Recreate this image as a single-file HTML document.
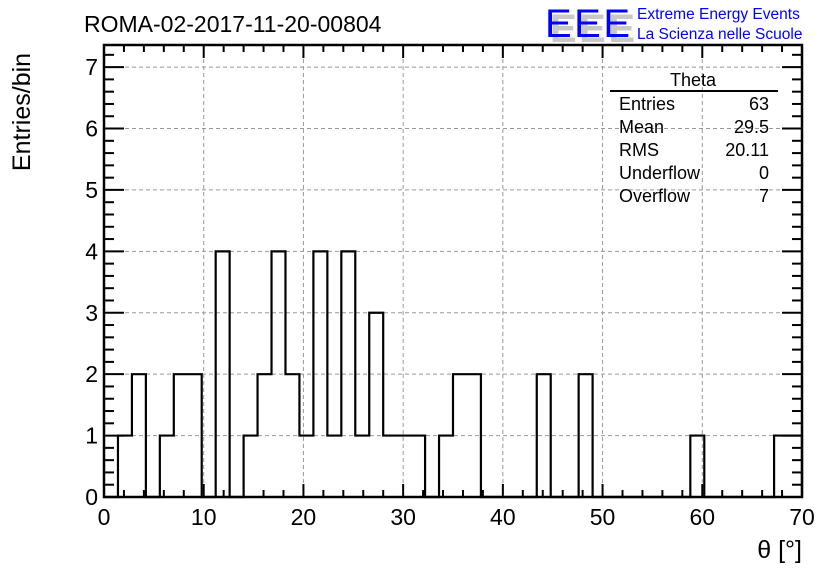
<!DOCTYPE html>
<html><head><meta charset="utf-8"><style>
body{margin:0;background:#fff}
svg{display:block;font-family:"Liberation Sans",sans-serif}
</style></head><body>
<svg id="c" width="836" height="572" viewBox="0 0 836 572">
<rect width="836" height="572" fill="#fff"/>
<g id="grid"></g>
<g id="hist"></g>
<g id="axes"></g>
<text x="84" y="32" font-size="23">ROMA-02-2017-11-20-00804</text>
<text transform="translate(30,112) rotate(-90)" text-anchor="middle" font-size="25">Entries/bin</text>
<text x="802" y="558" text-anchor="end" font-size="25">θ [°]</text>
<g>
<text x="550" y="42" font-size="40" fill="#c8c8c8" font-weight="bold" textLength="85">EEE</text>
<text x="545" y="37" font-size="40" fill="#0000ff" textLength="85">EEE</text>
<text x="637" y="19" font-size="15.5" fill="#0000ff">Extreme Energy Events</text>
<text x="637" y="39" font-size="15.5" fill="#0000ff">La Scienza nelle Scuole</text>
</g>
<g font-size="18">
<text x="693" y="86" text-anchor="middle">Theta</text>
<line x1="610" y1="91" x2="778" y2="91" stroke="#000" stroke-width="2"/>
<text x="619" y="110">Entries</text><text x="769" y="110" text-anchor="end">63</text>
<text x="619" y="133">Mean</text><text x="769" y="133" text-anchor="end">29.5</text>
<text x="619" y="156">RMS</text><text x="769" y="156" text-anchor="end">20.11</text>
<text x="619" y="179">Underflow</text><text x="769" y="179" text-anchor="end">0</text>
<text x="619" y="202">Overflow</text><text x="769" y="202" text-anchor="end">7</text>
</g>
</svg>
<script>
const binCounts=[0,1,2,0,1,2,2,0,4,0,1,2,4,2,1,4,1,4,1,3,1,1,1,0,1,2,2,0,0,0,0,2,0,0,2,0,0,0,0,0,0,0,1,0,0,0,0,0,1,1];
const xTicks=[0,10,20,30,40,50,60,70];
const yTicks=[0,1,2,3,4,5,6,7];
const xMin=0,xMax=70,yMax=7.36;
const L=104,R=802,T=45,B=497;
const NS="http://www.w3.org/2000/svg";
const X=v=>L+(v-xMin)/(xMax-xMin)*(R-L);
const Y=v=>B-v/yMax*(B-T);
function mk(tag,attrs,parent){const e=document.createElementNS(NS,tag);for(const k in attrs)e.setAttribute(k,attrs[k]);parent.appendChild(e);return e;}
const grid=document.getElementById('grid'),hist=document.getElementById('hist'),axes=document.getElementById('axes');
xTicks.forEach(t=>{if(t>xMin&&t<xMax){const l=mk('line',{x1:X(t),x2:X(t),y1:T,y2:B,stroke:'#999','stroke-dasharray':'4,3','stroke-width':1},grid);

}});
yTicks.forEach(t=>{if(t>0){const l=mk('line',{x1:L,x2:R,y1:Y(t),y2:Y(t),stroke:'#999','stroke-dasharray':'4,3','stroke-width':1},grid);

}});
const bw=(xMax-xMin)/binCounts.length;
let d='M'+X(xMin)+','+Y(0);
binCounts.forEach((c,i)=>{const x0=X(xMin+i*bw),x1=X(xMin+(i+1)*bw);d+=' L'+x0+','+Y(c)+' L'+x1+','+Y(c);});
d+=' L'+X(xMax)+','+Y(0);
const p=mk('path',{d:d,fill:'none',stroke:'#000','stroke-width':2.2},hist);


const fr=mk('rect',{x:L,y:T,width:R-L,height:B-T,fill:'none',stroke:'#000','stroke-width':2.5},axes);


for(let v=xMin;v<=xMax+1e-9;v+=2){const maj=Math.abs(v%10)<1e-9;const len=maj?13:7;
mk('line',{x1:X(v),x2:X(v),y1:B,y2:B-len,stroke:'#000','stroke-width':2},axes);
mk('line',{x1:X(v),x2:X(v),y1:T,y2:T+len,stroke:'#000','stroke-width':2},axes);}
for(let v=0;v<=yMax+1e-9;v+=0.2){const maj=Math.abs(v-Math.round(v))<1e-6;const len=maj?20:10;
mk('line',{x1:L,x2:L+len,y1:Y(v),y2:Y(v),stroke:'#000','stroke-width':2},axes);
mk('line',{x1:R,x2:R-len,y1:Y(v),y2:Y(v),stroke:'#000','stroke-width':2},axes);}
xTicks.forEach(t=>{const e=mk('text',{x:X(t),y:B+28,'text-anchor':'middle','font-size':23},axes);e.textContent=t;

});
yTicks.forEach(t=>{const e=mk('text',{x:L-6,y:Y(t)+8,'text-anchor':'end','font-size':23},axes);e.textContent=t;

});
</script>
</body></html>
